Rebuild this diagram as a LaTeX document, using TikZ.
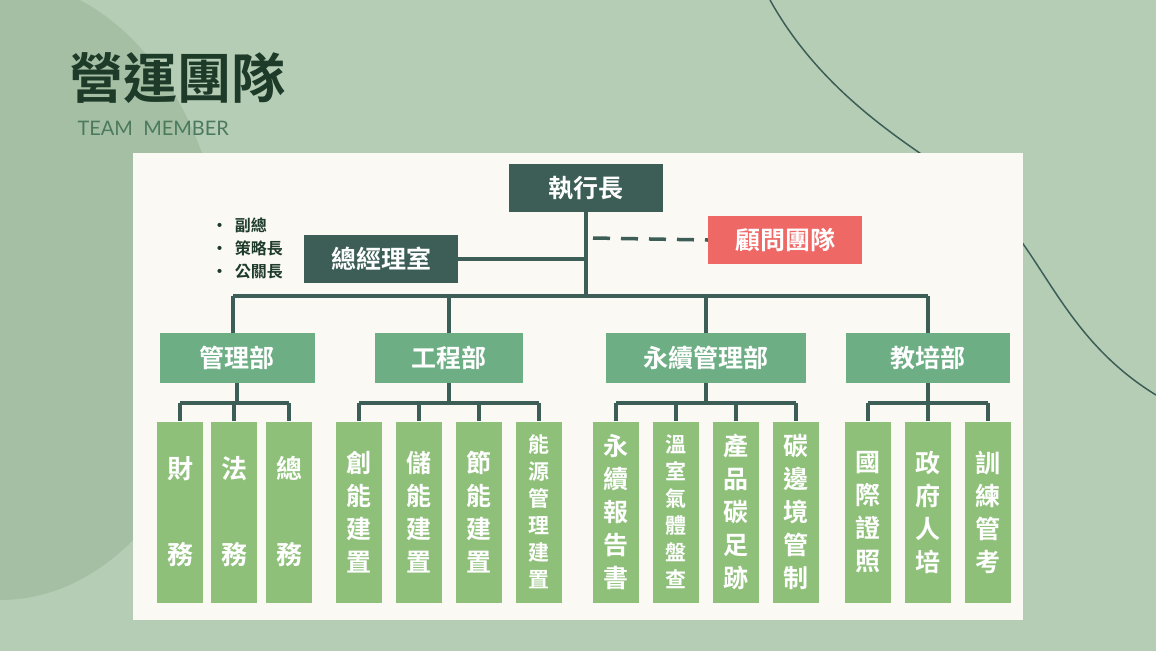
\documentclass[tikz,border=0pt]{standalone}
\usepackage{fontspec}
\setmainfont{Noto Sans CJK TC}
\newfontfamily\cjkb{Noto Sans CJK TC}[BoldFont={* Bold}]
\newfontfamily\latsans{Lato}
\definecolor{bg}{HTML}{B5CDB5}
\definecolor{blob}{HTML}{A4BFA4}
\definecolor{panel}{HTML}{FAF9F3}
\definecolor{dk}{HTML}{3C5E57}
\definecolor{rd}{HTML}{EE6866}
\definecolor{dept}{HTML}{6DAE85}
\definecolor{leaf}{HTML}{8EC07A}
\definecolor{ttl}{HTML}{1E3B2A}
\begin{document}
\begin{tikzpicture}[x=1pt,y=-1pt,
  box/.style={draw=none,minimum height=48pt,font=\cjkb\bfseries\fontsize{25}{27}\selectfont,text=white,inner sep=0pt},
  top/.style={box,fill=dk,minimum width=154pt},
  dep/.style={box,fill=dept,minimum height=50pt},
  lf/.style={draw=none,fill=leaf,minimum width=46pt,minimum height=181pt,text=white,inner sep=0pt,align=center},
  ln/.style={dk,line width=3.5pt}]
\useasboundingbox (0,0) rectangle (1156,651);
\fill[bg] (0,0) rectangle (1156,651);
\begin{scope}
\clip (0,0) rectangle (1156,651);
\fill[blob] (0,290) ellipse[x radius=225pt,y radius=310pt];
\draw[dk,line width=1.5pt] (770,0) .. controls (820,90) and (900,140) .. (960,180) .. controls (1040,230) and (1050,330) .. (1156,395);
\end{scope}
\node[anchor=west,font=\cjkb\bfseries\fontsize{54}{56}\selectfont,text=ttl] (t) at (66,78) {營運團隊};
\node[anchor=west,font=\latsans\fontsize{20}{22}\selectfont,text=dept!70!black] (t2) at (74,128) {TEAM\ \ MEMBER};
\fill[panel] (133,153) rectangle (1023,620);
% top nodes
\node[top] (ceo) at (586,188) {執行長};
\node[top,fill=rd] (adv) at (785,240) {顧問團隊};
\node[top] (gm) at (381,259) {總經理室};
\node[anchor=west,align=left,font=\cjkb\bfseries\fontsize{16}{23}\selectfont,text=ttl] (bl) at (208,248) {•\ \ 副總\\•\ \ 策略長\\•\ \ 公關長};
\coordinate (j) at (586,296);
\draw[ln] (ceo.south) -- (j);
\draw[ln] (gm.east) -- (586,259);
\draw[ln,dash pattern=on 17pt off 11pt] (593,238) -- (adv.west);
% departments
\node[dep,minimum width=155pt] (d1) at (237,358) {管理部};
\node[dep,minimum width=148pt] (d2) at (449,358) {工程部};
\node[dep,minimum width=200pt] (d3) at (706,358) {永續管理部};
\node[dep,minimum width=164pt] (d4) at (928,358) {教培部};
\draw[ln] (233,296) -- (928,296);
\foreach \d/\x in {d1/233,d2/449,d3/706,d4/928}{\draw[ln] (\x,296) -- (\x,333);}
% leaves
\def\lfA{\fontsize{26}{44}\selectfont}
\def\lfB{\fontsize{25}{33}\selectfont}
\def\lfC{\fontsize{21}{27}\selectfont}
\node[lf,font=\cjkb\bfseries\lfA] (a1) at (180,512) {財\\[42pt]務};
\node[lf,font=\cjkb\bfseries\lfA] (a2) at (234,512) {法\\[42pt]務};
\node[lf,font=\cjkb\bfseries\lfA] (a3) at (289,512) {總\\[42pt]務};
\node[lf,font=\cjkb\bfseries\lfB] (b1) at (359,512) {創\\能\\建\\置};
\node[lf,font=\cjkb\bfseries\lfB] (b2) at (419,512) {儲\\能\\建\\置};
\node[lf,font=\cjkb\bfseries\lfB] (b3) at (479,512) {節\\能\\建\\置};
\node[lf,font=\cjkb\bfseries\lfC] (b4) at (539,512) {能\\源\\管\\理\\建\\置};
\node[lf,font=\cjkb\bfseries\lfB] (c1) at (616,512) {永\\續\\報\\告\\書};
\node[lf,font=\cjkb\bfseries\lfC] (c2) at (676,512) {溫\\室\\氣\\體\\盤\\查};
\node[lf,font=\cjkb\bfseries\lfB] (c3) at (736,512) {產\\品\\碳\\足\\跡};
\node[lf,font=\cjkb\bfseries\lfB] (c4) at (796,512) {碳\\邊\\境\\管\\制};
\node[lf,font=\cjkb\bfseries\lfB] (e1) at (868,512) {國\\際\\證\\照};
\node[lf,font=\cjkb\bfseries\lfB] (e2) at (928,512) {政\\府\\人\\培};
\node[lf,font=\cjkb\bfseries\lfB] (e3) at (988,512) {訓\\練\\管\\考};
\foreach \d/\a/\b/\kids in {d1/180/289/{a1,a2,a3},d2/359/539/{b1,b2,b3,b4},d3/616/796/{c1,c2,c3,c4},d4/868/988/{e1,e2,e3}}{
  \draw[ln] (\d.south) -- ++(0,20);
  \draw[ln] (\a,403) -- (\b,403);
  \foreach \k in \kids {\draw[ln] (\k.north |- 403,403) -- (\k.north);}
}
\end{tikzpicture}
\end{document}
